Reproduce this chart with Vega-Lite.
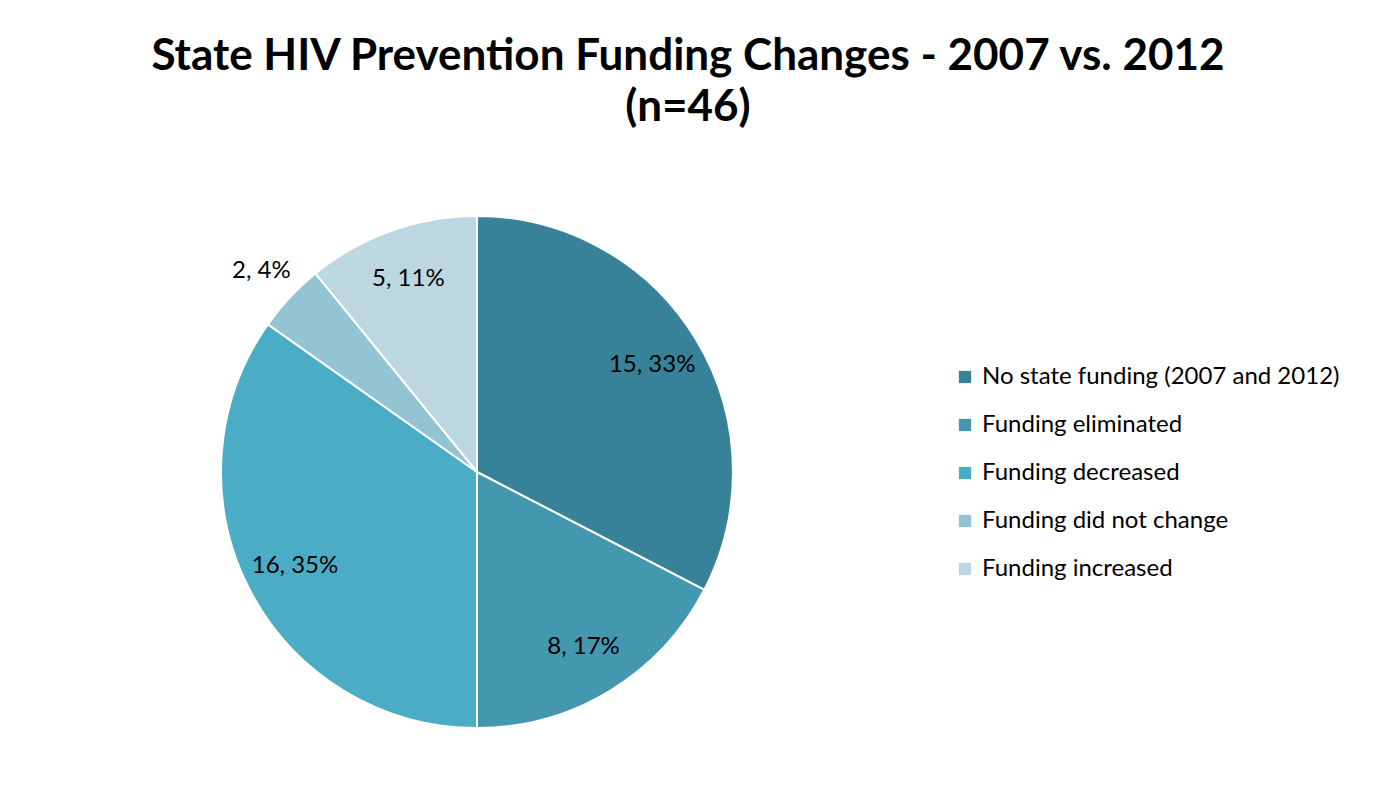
{
  "$schema": "https://vega.github.io/schema/vega-lite/v6.json",
  "autosize": {"type": "none"},
  "padding": {"left": 7, "top": 148, "right": 427, "bottom": 0},
  "width": 940,
  "height": 648,
  "background": "white",
  "config": {
    "view": {"stroke": null},
    "font": "Lato"
  },
  "title": {
    "text": ["State HIV Prevention Funding Changes - 2007 vs. 2012", "(n=46)"],
    "anchor": "middle",
    "frame": "group",
    "orient": "top",
    "dx": 211,
    "offset": 18,
    "limit": 2000,
    "font": "Lato",
    "fontSize": 44,
    "fontWeight": "bold",
    "color": "#000000",
    "lineHeight": 51
  },
  "data": {
    "values": [
      {"category": "No state funding (2007 and 2012)", "count": 15, "label": "15, 33%", "idx": 1},
      {"category": "Funding eliminated", "count": 8, "label": "8, 17%", "idx": 2},
      {"category": "Funding decreased", "count": 16, "label": "16, 35%", "idx": 3},
      {"category": "Funding did not change", "count": 2, "label": "2, 4%", "idx": 4},
      {"category": "Funding increased", "count": 5, "label": "5, 11%", "idx": 5}
    ]
  },
  "encoding": {
    "theta": {"field": "count", "type": "quantitative", "stack": true},
    "order": {"field": "idx", "type": "quantitative"}
  },
  "layer": [
    {
      "mark": {"type": "arc", "outerRadius": 256, "stroke": "white", "strokeWidth": 2},
      "encoding": {
        "color": {
          "field": "category",
          "type": "nominal",
          "sort": null,
          "scale": {
            "domain": ["No state funding (2007 and 2012)", "Funding eliminated", "Funding decreased", "Funding did not change", "Funding increased"],
            "range": ["#378298", "#4398B0", "#4BACC6", "#92C4D4", "#BCD7E2"]
          },
          "legend": {
            "title": null,
            "orient": "none",
            "legendX": 946,
            "legendY": 217,
            "symbolType": "square",
            "symbolSize": 150,
            "symbolStrokeWidth": 0,
            "labelFont": "Lato",
            "labelFontSize": 24,
            "labelColor": "#000000",
            "labelOffset": 5,
            "rowPadding": 24,
            "labelLimit": 500,
            "padding": 0
          }
        }
      }
    },
    {
      "mark": {"type": "text", "font": "Lato", "fontSize": 24, "color": "#000000", "radius": 205},
      "encoding": {
        "text": {"field": "label", "type": "nominal"},
        "opacity": {"condition": {"test": "datum.count == 2", "value": 0}, "value": 1}
      }
    },
    {
      "mark": {"type": "text", "font": "Lato", "fontSize": 24, "color": "#000000", "radius": 295},
      "encoding": {
        "text": {"field": "label", "type": "nominal"},
        "opacity": {"condition": {"test": "datum.count == 2", "value": 1}, "value": 0}
      }
    }
  ]
}
